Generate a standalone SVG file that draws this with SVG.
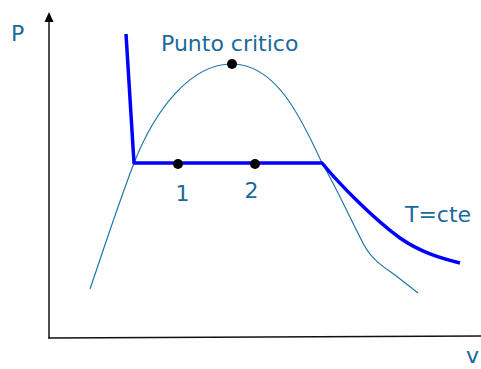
<svg xmlns="http://www.w3.org/2000/svg" width="481" height="369" viewBox="0 0 481 369">
<style>
.lbl{font-family:"DejaVu Sans",Verdana,sans-serif;font-size:22px;fill:#1a6a9c}
.axis{stroke:#111;stroke-width:1.5;fill:none}
.dome{stroke:#1f78a8;stroke-width:1.2;fill:none}
.iso{stroke:#0000ff;stroke-width:3.5;fill:none;stroke-linejoin:round}
.pt{fill:#000}
</style>
<g id="connectors">
<path id="axis-p" class="axis" d="M49,338 L49,21"/>
<path d="M44.5,22 L49,12 L53.5,22 Z" fill="#000"/>
<path id="axis-v" class="axis" d="M48,338 L481,336"/>
<path id="dome" class="dome" d="M90,289 C105,245 118,205 134,163 C155,110 190,64 232,64 C275,64 300,115 322,163 C335,185 352,222 364,245 C372,260 385,268 395,275 L418,293"/>
<path id="isotherm" class="iso" d="M126,34 L134,163 L322,163 C340,185 375,220 400,238 C420,252 440,258 460,263"/>
</g>
<g id="critical-point"><circle class="pt" cx="232" cy="64" r="5"/><text class="lbl" x="161" y="51">Punto critico</text></g>
<g id="point-1"><circle class="pt" cx="178" cy="164" r="5"/><text class="lbl" x="175.5" y="201">1</text></g>
<g id="point-2"><circle class="pt" cx="255" cy="164" r="5"/><text class="lbl" x="244.5" y="198">2</text></g>
<g id="label-P"><text class="lbl" x="11" y="41">P</text></g>
<g id="label-T"><text class="lbl" x="405" y="222">T=cte</text></g>
<g id="label-v"><text class="lbl" x="466" y="363">v</text></g>
</svg>
